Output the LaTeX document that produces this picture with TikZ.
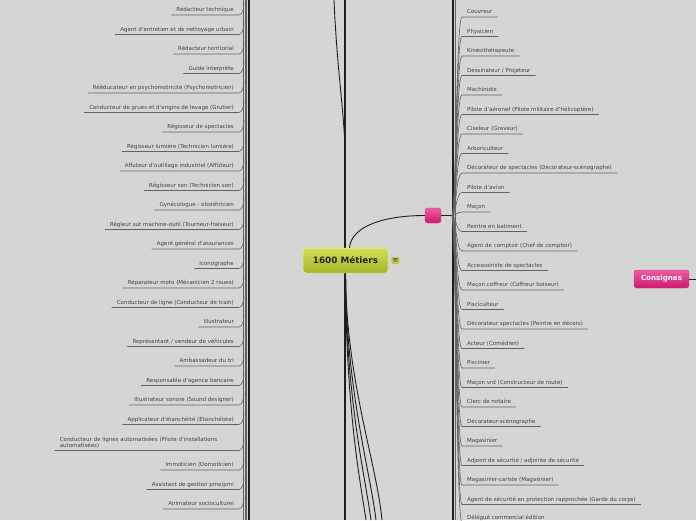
\documentclass[tikz,border=0pt]{standalone}
\usepackage{fontspec}
\setmainfont{DejaVu Sans}
\usetikzlibrary{positioning}

\definecolor{bgcol}{RGB}{212,214,211}
\definecolor{labelcol}{RGB}{66,66,66}
\definecolor{twigcol}{RGB}{98,98,98}
\definecolor{trunkcol}{RGB}{32,29,29}
\definecolor{limetop}{RGB}{210,224,86}
\definecolor{limebot}{RGB}{166,180,42}
\definecolor{pinktop}{RGB}{238,92,162}
\definecolor{pinkbot}{RGB}{204,26,112}
\newcommand\twigfont{\fontsize{5.5}{6}\selectfont}

\begin{document}
\begin{tikzpicture}[x=1pt, y=-1pt,
  lefttwig/.style={anchor=south east, font=\twigfont, text=labelcol, inner xsep=5pt, inner ysep=1.6pt, text height=4pt, text depth=1.3pt},
  righttwig/.style={lefttwig, anchor=south west},
  twig/.style={draw=twigcol, line width=0.6pt},
  trunk/.style={draw=trunkcol, line width=1.8pt},
  limb/.style={draw=trunkcol, line width=0.9pt},
  pinkbox/.style={rounded corners=2.5pt, top color=pinktop, bottom color=pinkbot, draw=pinkbot!85!white, line width=0.4pt, inner sep=0pt}]

  \useasboundingbox (0,0) rectangle (696,520);
  \fill[bgcol] (0,0) rectangle (696,520);

  % Trunks running off the page
  \draw[twig] (243.5,0) -- (243.5,520);
  \draw[twig] (245,0) -- (245,520);
  \draw[twig] (246.5,0) -- (246.5,520);
  \draw[trunk] (249,0) -- (249,520);
  \draw[trunk] (345,0) -- (345,520);
  \draw[limb] (334,0) .. controls (337,70) and (344,110) .. (345,150);
  \draw[twig] (455,0) -- (455,520);
  \draw[trunk] (453,0) -- (453,520);

  % Central topic
  \node[draw=limetop!60!white, line width=0.5pt, rounded corners=3pt, top color=limetop, bottom color=limebot,
        minimum width=85pt, minimum height=25pt, font=\bfseries\fontsize{8.8}{10}\selectfont, text=black!85] (cm) at (345.5,260.5) {1600 Métiers};
  \node[right=3pt of cm, fill=limetop!90!black, rounded corners=1pt, minimum width=8pt, minimum height=7pt, inner sep=0pt,
        font=\fontsize{7}{7}\selectfont, text=black!80] (note) {≡};

  % Branches leaving the bottom
  \coordinate (f1) at (366,520);
  \coordinate (f2) at (371,520);
  \coordinate (f3) at (376,520);
  \coordinate (f4) at (382,520);
  \draw[limb] (cm.south) .. controls (346,410) and (360,480) .. (f1);
  \draw[limb] (cm.south) .. controls (346,400) and (365,475) .. (f2);
  \draw[limb] (cm.south) .. controls (346,390) and (370,470) .. (f3);
  \draw[limb] (cm.south) .. controls (346,380) and (376,460) .. (f4);

  % Pink sub topic and its hub
  \node[pinkbox, minimum width=16pt, minimum height=15pt] (p) at (433,215.5) {};
  \draw[limb] ([xshift=4pt]cm.north) .. controls +(2,-22) and +(-40,0) .. (p.west);
  \coordinate (hr) at (452,215.5);
  \draw[trunk, line width=1.4pt] (p.east) -- (hr);

  % Consignes
  \node[pinkbox, minimum width=55pt, minimum height=18pt, font=\bfseries\fontsize{7.1}{8}\selectfont, text=white] (cons) at (661.5,279) {Consignes};
  \coordinate (consout) at (696,279);
  \draw[limb] (cons.east) -- (consout);

  % Left column
  \node[lefttwig] (l1) at (239,15) {Rédacteur technique};
  \draw[twig] (l1.south west) -- (l1.south east) .. controls +(3,0) and +(0,6) .. ++(5,-12);
  \node[lefttwig] (l2) at (239,34.5) {Agent d'entretien et de nettoyage urbain};
  \draw[twig] (l2.south west) -- (l2.south east) .. controls +(3,0) and +(0,6) .. ++(5,-12);
  \node[lefttwig] (l3) at (239,54) {Rédacteur territorial};
  \draw[twig] (l3.south west) -- (l3.south east) .. controls +(3,0) and +(0,6) .. ++(5,-12);
  \node[lefttwig] (l4) at (239,73.5) {Guide interprète};
  \draw[twig] (l4.south west) -- (l4.south east) .. controls +(3,0) and +(0,6) .. ++(5,-12);
  \node[lefttwig] (l5) at (239,93) {Rééducateur en psychomotricité (Psychomotricien)};
  \draw[twig] (l5.south west) -- (l5.south east) .. controls +(3,0) and +(0,6) .. ++(5,-12);
  \node[lefttwig] (l6) at (239,112.5) {Conducteur de grues et d'engins de levage (Grutier)};
  \draw[twig] (l6.south west) -- (l6.south east) .. controls +(3,0) and +(0,6) .. ++(5,-12);
  \node[lefttwig] (l7) at (239,132) {Régisseur de spectacles};
  \draw[twig] (l7.south west) -- (l7.south east) .. controls +(3,0) and +(0,6) .. ++(5,-12);
  \node[lefttwig] (l8) at (239,151.5) {Régisseur lumière (Technicien lumière)};
  \draw[twig] (l8.south west) -- (l8.south east) .. controls +(3,0) and +(0,6) .. ++(5,-12);
  \node[lefttwig] (l9) at (239,171) {Affuteur d'outillage industriel (Affûteur)};
  \draw[twig] (l9.south west) -- (l9.south east) .. controls +(3,0) and +(0,6) .. ++(5,-12);
  \node[lefttwig] (l10) at (239,190.5) {Régisseur son (Technicien son)};
  \draw[twig] (l10.south west) -- (l10.south east) .. controls +(3,0) and +(0,6) .. ++(5,-12);
  \node[lefttwig] (l11) at (239,210) {Gynécologue - obstétricien};
  \draw[twig] (l11.south west) -- (l11.south east) .. controls +(3,0) and +(0,6) .. ++(5,-12);
  \node[lefttwig] (l12) at (239,229.5) {Régleur sur machine-outil (Tourneur-fraiseur)};
  \draw[twig] (l12.south west) -- (l12.south east) .. controls +(3,0) and +(0,6) .. ++(5,-12);
  \node[lefttwig] (l13) at (239,249) {Agent général d'assurances};
  \draw[twig] (l13.south west) -- (l13.south east) .. controls +(3,0) and +(0,6) .. ++(5,-12);
  \node[lefttwig] (l14) at (239,268.5) {Iconographe};
  \draw[twig] (l14.south west) -- (l14.south east) .. controls +(3,0) and +(0,6) .. ++(5,-12);
  \node[lefttwig] (l15) at (239,288) {Réparateur moto (Mécanicien 2 roues)};
  \draw[twig] (l15.south west) -- (l15.south east) .. controls +(3,0) and +(0,6) .. ++(5,-12);
  \node[lefttwig] (l16) at (239,307.5) {Conducteur de ligne (Conducteur de train)};
  \draw[twig] (l16.south west) -- (l16.south east) .. controls +(3,0) and +(0,6) .. ++(5,-12);
  \node[lefttwig] (l17) at (239,327) {Illustrateur};
  \draw[twig] (l17.south west) -- (l17.south east) .. controls +(3,0) and +(0,6) .. ++(5,-12);
  \node[lefttwig] (l18) at (239,346.5) {Représentant / vendeur de véhicules};
  \draw[twig] (l18.south west) -- (l18.south east) .. controls +(3,0) and +(0,6) .. ++(5,-12);
  \node[lefttwig] (l19) at (239,366) {Ambassadeur du tri};
  \draw[twig] (l19.south west) -- (l19.south east) .. controls +(3,0) and +(0,6) .. ++(5,-12);
  \node[lefttwig] (l20) at (239,385.5) {Responsable d'agence bancaire};
  \draw[twig] (l20.south west) -- (l20.south east) .. controls +(3,0) and +(0,6) .. ++(5,-12);
  \node[lefttwig] (l21) at (239,405) {Illustrateur sonore (Sound designer)};
  \draw[twig] (l21.south west) -- (l21.south east) .. controls +(3,0) and +(0,6) .. ++(5,-12);
  \node[lefttwig] (l22) at (239,424.5) {Applicateur d'étanchéité (Etanchéiste)};
  \draw[twig] (l22.south west) -- (l22.south east) .. controls +(3,0) and +(0,6) .. ++(5,-12);
  \node[lefttwig, align=left, text width=174pt, text depth=7.3pt] (l23) at (239,450.5) {Conducteur de lignes automatisées (Pilote d'installations\\automatisées)};
  \draw[twig] (l23.south west) -- (l23.south east) .. controls +(3,0) and +(0,6) .. ++(5,-12);
  \node[lefttwig] (l24) at (239,470) {Immoticien (Domoticien)};
  \draw[twig] (l24.south west) -- (l24.south east) .. controls +(3,0) and +(0,6) .. ++(5,-12);
  \node[lefttwig] (l25) at (239,489.5) {Assistant de gestion pme/pmi};
  \draw[twig] (l25.south west) -- (l25.south east) .. controls +(3,0) and +(0,6) .. ++(5,-12);
  \node[lefttwig] (l26) at (239,509) {Animateur socioculturel};
  \draw[twig] (l26.south west) -- (l26.south east) .. controls +(3,0) and +(0,6) .. ++(5,-12);

  % Right column, all from the pink hub
  \node[righttwig] (r1) at (462,17) {Couvreur};
  \draw[twig] (hr) .. controls +(4,0) and +(-6,0) .. (r1.south west) -- (r1.south east);
  \node[righttwig] (r2) at (462,36.5) {Physicien};
  \draw[twig] (hr) .. controls +(4,0) and +(-6,0) .. (r2.south west) -- (r2.south east);
  \node[righttwig] (r3) at (462,56) {Kinésithérapeute};
  \draw[twig] (hr) .. controls +(4,0) and +(-6,0) .. (r3.south west) -- (r3.south east);
  \node[righttwig] (r4) at (462,75.5) {Dessinateur / Projeteur};
  \draw[twig] (hr) .. controls +(4,0) and +(-6,0) .. (r4.south west) -- (r4.south east);
  \node[righttwig] (r5) at (462,95) {Machiniste};
  \draw[twig] (hr) .. controls +(4,0) and +(-6,0) .. (r5.south west) -- (r5.south east);
  \node[righttwig] (r6) at (462,114.5) {Pilote d'aéronef (Pilote militaire d'hélicoptère)};
  \draw[twig] (hr) .. controls +(4,0) and +(-6,0) .. (r6.south west) -- (r6.south east);
  \node[righttwig] (r7) at (462,134) {Ciseleur (Graveur)};
  \draw[twig] (hr) .. controls +(4,0) and +(-6,0) .. (r7.south west) -- (r7.south east);
  \node[righttwig] (r8) at (462,153.5) {Arboriculteur};
  \draw[twig] (hr) .. controls +(4,0) and +(-6,0) .. (r8.south west) -- (r8.south east);
  \node[righttwig] (r9) at (462,173) {Décorateur de spectacles (Décorateur-scénographe)};
  \draw[twig] (hr) .. controls +(4,0) and +(-6,0) .. (r9.south west) -- (r9.south east);
  \node[righttwig] (r10) at (462,192.5) {Pilote d'avion};
  \draw[twig] (hr) .. controls +(4,0) and +(-6,0) .. (r10.south west) -- (r10.south east);
  \node[righttwig] (r11) at (462,212) {Maçon};
  \draw[twig] (hr) .. controls +(4,0) and +(-6,0) .. (r11.south west) -- (r11.south east);
  \node[righttwig] (r12) at (462,231.5) {Peintre en batiment};
  \draw[twig] (hr) .. controls +(4,0) and +(-6,0) .. (r12.south west) -- (r12.south east);
  \node[righttwig] (r13) at (462,251) {Agent de comptoir (Chef de comptoir)};
  \draw[twig] (hr) .. controls +(4,0) and +(-6,0) .. (r13.south west) -- (r13.south east);
  \node[righttwig] (r14) at (462,270.5) {Accessoiriste de spectacles};
  \draw[twig] (hr) .. controls +(4,0) and +(-6,0) .. (r14.south west) -- (r14.south east);
  \node[righttwig] (r15) at (462,290) {Maçon coffreur (Coffreur boiseur)};
  \draw[twig] (hr) .. controls +(4,0) and +(-6,0) .. (r15.south west) -- (r15.south east);
  \node[righttwig] (r16) at (462,309.5) {Pisciculteur};
  \draw[twig] (hr) .. controls +(4,0) and +(-6,0) .. (r16.south west) -- (r16.south east);
  \node[righttwig] (r17) at (462,329) {Décorateur spectacles (Peintre en décors)};
  \draw[twig] (hr) .. controls +(4,0) and +(-6,0) .. (r17.south west) -- (r17.south east);
  \node[righttwig] (r18) at (462,348.5) {Acteur (Comédien)};
  \draw[twig] (hr) .. controls +(4,0) and +(-6,0) .. (r18.south west) -- (r18.south east);
  \node[righttwig] (r19) at (462,368) {Piscinier};
  \draw[twig] (hr) .. controls +(4,0) and +(-6,0) .. (r19.south west) -- (r19.south east);
  \node[righttwig] (r20) at (462,387.5) {Maçon vrd (Constructeur de route)};
  \draw[twig] (hr) .. controls +(4,0) and +(-6,0) .. (r20.south west) -- (r20.south east);
  \node[righttwig] (r21) at (462,407) {Clerc de notaire};
  \draw[twig] (hr) .. controls +(4,0) and +(-6,0) .. (r21.south west) -- (r21.south east);
  \node[righttwig] (r22) at (462,426.5) {Décorateur-scénographe};
  \draw[twig] (hr) .. controls +(4,0) and +(-6,0) .. (r22.south west) -- (r22.south east);
  \node[righttwig] (r23) at (462,446) {Magasinier};
  \draw[twig] (hr) .. controls +(4,0) and +(-6,0) .. (r23.south west) -- (r23.south east);
  \node[righttwig] (r24) at (462,465.5) {Adjoint de sécurité / adjointe de sécurité};
  \draw[twig] (hr) .. controls +(4,0) and +(-6,0) .. (r24.south west) -- (r24.south east);
  \node[righttwig] (r25) at (462,485) {Magasinier-cariste (Magasinier)};
  \draw[twig] (hr) .. controls +(4,0) and +(-6,0) .. (r25.south west) -- (r25.south east);
  \node[righttwig] (r26) at (462,504.5) {Agent de sécurité en protection rapprochée (Garde du corps)};
  \draw[twig] (hr) .. controls +(4,0) and +(-6,0) .. (r26.south west) -- (r26.south east);
  \node[righttwig] (r27) at (462,523) {Délégué commercial édition};
  \draw[twig] (hr) .. controls +(4,0) and +(-6,0) .. (r27.south west) -- (r27.south east);
\end{tikzpicture}
\end{document}
